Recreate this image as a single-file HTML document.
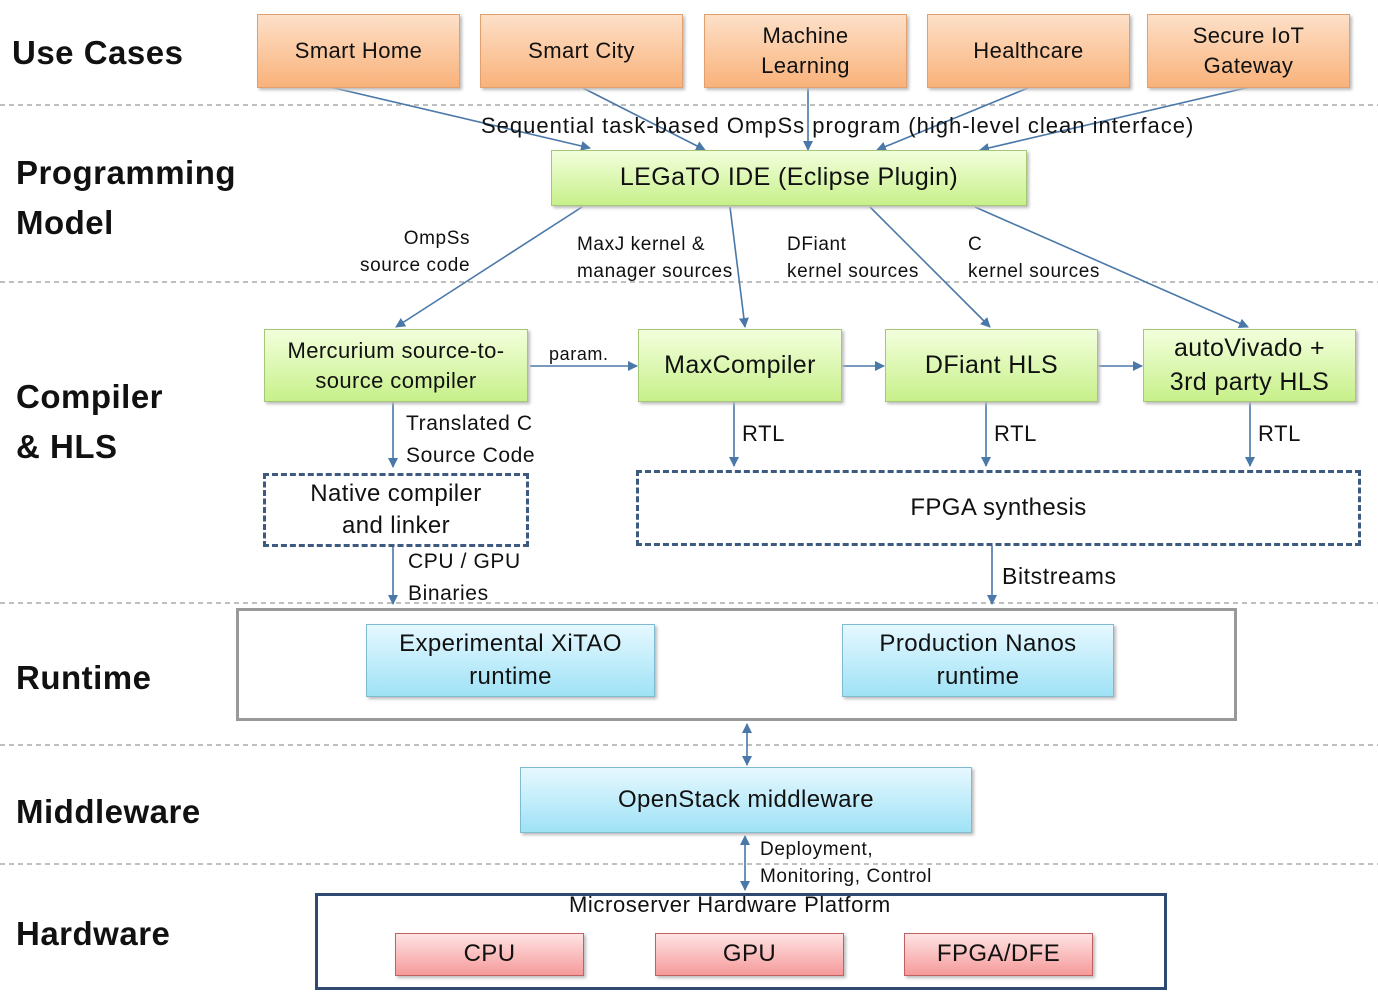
<!DOCTYPE html>
<html><head><meta charset="utf-8"><style>
body{margin:0;width:1378px;height:1000px;background:#fff;position:relative;overflow:hidden;font-family:"Liberation Sans",sans-serif;color:#111}
.b{position:absolute;box-sizing:border-box;display:flex;align-items:center;justify-content:center;text-align:center;line-height:1.35;font-size:22px;letter-spacing:0.4px}
.o{background:linear-gradient(#fde0c8,#f9b27a);border:1px solid #e0a070;box-shadow:2px 2px 3px #bbb}
.g{background:linear-gradient(#f3ffdc,#c7f08a);border:1px solid #a4c878;box-shadow:2px 2px 3px #bbb}
.c{background:linear-gradient(#e6f8ff,#9fe2f6);border:1px solid #7fbad0;box-shadow:2px 2px 3px #bbb}
.r{background:linear-gradient(#ffe3e3,#f59a9a);border:1px solid #c06060;box-shadow:2px 2px 3px #bbb}
.d{border:3px dashed #3d5a80}
.t{position:absolute;font-size:20px;line-height:1.4;white-space:nowrap;letter-spacing:0.6px}
.L{position:absolute;font-size:33px;font-weight:bold;line-height:1.5;letter-spacing:0.5px}
</style></head><body>
<svg width="1378" height="1000" style="position:absolute;left:0;top:0">
<defs><marker id="a" markerWidth="10" markerHeight="10" refX="9" refY="5" orient="auto-start-reverse" markerUnits="userSpaceOnUse"><path d="M0,0 L10,5 L0,10 z" fill="#4a78a8"/></marker></defs>
<g stroke="#999" stroke-width="1.2" stroke-dasharray="5,4">
<line x1="0" y1="105" x2="1378" y2="105"/><line x1="0" y1="282" x2="1378" y2="282"/><line x1="0" y1="603" x2="1378" y2="603"/><line x1="0" y1="745" x2="1378" y2="745"/><line x1="0" y1="864" x2="1378" y2="864"/></g>
<g stroke="#4a78a8" stroke-width="1.6" fill="none" marker-end="url(#a)">
<line x1="330" y1="87" x2="590" y2="148"/><line x1="583" y1="88" x2="705" y2="150"/><line x1="808" y1="88" x2="808" y2="150"/><line x1="1028" y1="88" x2="877" y2="150"/><line x1="1250" y1="87" x2="980" y2="150"/>
<line x1="582" y1="207" x2="396" y2="327"/><line x1="730" y1="207" x2="745" y2="327"/><line x1="870" y1="207" x2="990" y2="327"/><line x1="975" y1="207" x2="1248" y2="327"/>
<line x1="530" y1="366" x2="637" y2="366"/><line x1="842" y1="366" x2="884" y2="366"/><line x1="1098" y1="366" x2="1142" y2="366"/>
<line x1="393" y1="402" x2="393" y2="467"/><line x1="734" y1="402" x2="734" y2="466"/><line x1="986" y1="402" x2="986" y2="466"/><line x1="1250" y1="402" x2="1250" y2="466"/>
<line x1="393" y1="547" x2="393" y2="604"/><line x1="992" y1="546" x2="992" y2="604"/>
<line x1="747" y1="724" x2="747" y2="765" marker-start="url(#a)"/><line x1="745" y1="836" x2="745" y2="890" marker-start="url(#a)"/>
</g></svg>
<div class="L" style="left:12px;top:28px">Use Cases</div>
<div class="L" style="left:16px;top:148px;line-height:1.5">Programming<br>Model</div>
<div class="L" style="left:16px;top:372px">Compiler<br>&amp; HLS</div>
<div class="L" style="left:16px;top:653px">Runtime</div>
<div class="L" style="left:16px;top:787px">Middleware</div>
<div class="L" style="left:16px;top:909px">Hardware</div>
<div class="b o" style="left:257px;top:14px;width:203px;height:74px">Smart Home</div>
<div class="b o" style="left:480px;top:14px;width:203px;height:74px">Smart City</div>
<div class="b o" style="left:704px;top:14px;width:203px;height:74px">Machine<br>Learning</div>
<div class="b o" style="left:927px;top:14px;width:203px;height:74px">Healthcare</div>
<div class="b o" style="left:1147px;top:14px;width:203px;height:74px">Secure IoT<br>Gateway</div>
<div class="t" style="left:481px;top:111px;font-size:22px;letter-spacing:1px">Sequential task-based OmpSs program (high-level clean interface)</div>
<div class="b g" style="left:551px;top:150px;width:476px;height:56px;font-size:25px">LEGaTO IDE (Eclipse Plugin)</div>
<div class="t" style="left:360px;top:226px;text-align:right;font-size:19px">OmpSs<br>source code</div>
<div class="t" style="left:577px;top:232px;font-size:19px">MaxJ kernel &amp;<br>manager sources</div>
<div class="t" style="left:787px;top:232px;font-size:19px">DFiant<br>kernel sources</div>
<div class="t" style="left:968px;top:232px;font-size:19px">C<br>kernel sources</div>
<div class="b g" style="left:264px;top:329px;width:264px;height:73px">Mercurium source-to-<br>source compiler</div>
<div class="t" style="left:549px;top:342px;font-size:18px">param.</div>
<div class="b g" style="left:638px;top:329px;width:204px;height:73px;font-size:25px">MaxCompiler</div>
<div class="b g" style="left:885px;top:329px;width:213px;height:73px;font-size:25px">DFiant HLS</div>
<div class="b g" style="left:1143px;top:329px;width:213px;height:73px;font-size:25px">autoVivado +<br>3rd party HLS</div>
<div class="t" style="left:406px;top:408px;font-size:21px;line-height:1.5">Translated C<br>Source Code</div>
<div class="t" style="left:742px;top:419px;font-size:22px">RTL</div>
<div class="t" style="left:994px;top:419px;font-size:22px">RTL</div>
<div class="t" style="left:1258px;top:419px;font-size:22px">RTL</div>
<div class="b d" style="left:263px;top:473px;width:266px;height:74px;font-size:24px">Native compiler<br>and linker</div>
<div class="b d" style="left:636px;top:470px;width:725px;height:76px;font-size:24px">FPGA synthesis</div>
<div class="t" style="left:408px;top:546px;font-size:21px;line-height:1.5">CPU / GPU<br>Binaries</div>
<div class="t" style="left:1002px;top:560px;font-size:23px">Bitstreams</div>
<div class="b" style="left:236px;top:608px;width:1001px;height:113px;border:3px solid #999"></div>
<div class="b c" style="left:366px;top:624px;width:289px;height:73px;font-size:24px">Experimental XiTAO<br>runtime</div>
<div class="b c" style="left:842px;top:624px;width:272px;height:73px;font-size:24px">Production Nanos<br>runtime</div>
<div class="b c" style="left:520px;top:767px;width:452px;height:66px;font-size:24px">OpenStack middleware</div>
<div class="t" style="left:760px;top:837px;font-size:19px">Deployment,<br>Monitoring, Control</div>
<div class="b" style="left:315px;top:893px;width:852px;height:97px;border:3px solid #2e4a70"></div>
<div class="t" style="left:569px;top:890px;font-size:22px">Microserver Hardware Platform</div>
<div class="b r" style="left:395px;top:933px;width:189px;height:43px;font-size:24px">CPU</div>
<div class="b r" style="left:655px;top:933px;width:189px;height:43px;font-size:24px">GPU</div>
<div class="b r" style="left:904px;top:933px;width:189px;height:43px;font-size:24px">FPGA/DFE</div>
</body></html>
